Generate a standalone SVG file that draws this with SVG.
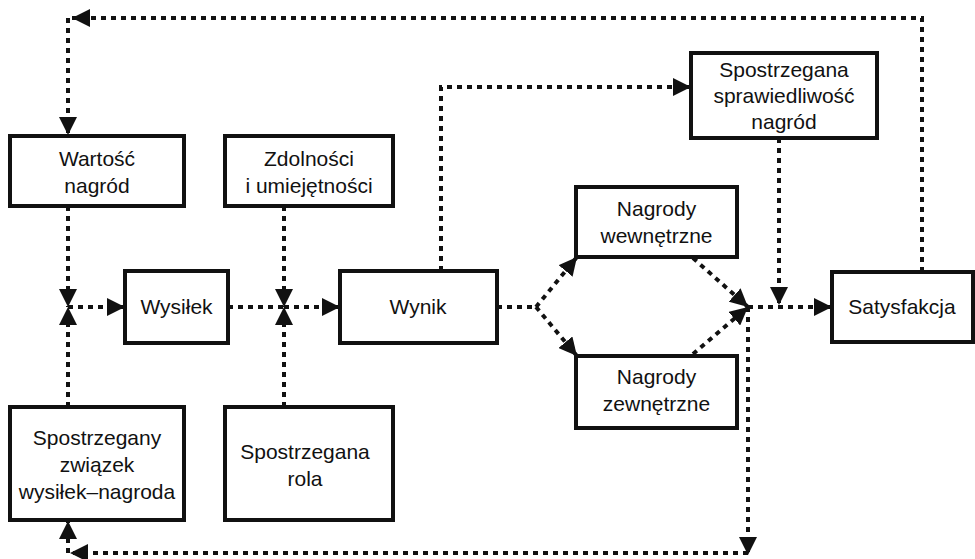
<svg xmlns="http://www.w3.org/2000/svg" width="975" height="559" viewBox="0 0 975 559">
<style>
.box{fill:#fff;stroke:#111;stroke-width:4}
.t{font-family:"Liberation Sans",Arial,sans-serif;font-size:21px;fill:#111;text-anchor:middle}
.c{fill:none;stroke:#111;stroke-width:4;stroke-dasharray:5 5}
.a{marker-end:url(#ah)}
</style>
<defs>
<marker id="ah" markerUnits="userSpaceOnUse" markerWidth="18" markerHeight="18" refX="18" refY="9" orient="auto">
<path d="M0,0 L18,9 L0,18 z" fill="#111"/>
</marker>
</defs>
<rect width="975" height="559" fill="#fff"/>
<g id="connectors">
<path class="c a" d="M922,272 V18 H72"/>
<path class="c a" d="M68,18 V135"/>
<path class="c a" d="M68,206 V307"/>
<path class="c a" d="M68,407 V307"/>
<path class="c a" d="M68,307 H125"/>
<path class="c" d="M228,307 H284"/>
<path class="c a" d="M284,206 V307"/>
<path class="c a" d="M284,407 V307"/>
<path class="c a" d="M284,307 H340"/>
<path class="c a" d="M441,271 V87 H691"/>
<path class="c" d="M497,307 H536"/>
<path class="c a" d="M536,307 L577,257"/>
<path class="c a" d="M536,307 L577,356"/>
<path class="c a" d="M693,258 L748,307"/>
<path class="c a" d="M693,354 L748,307"/>
<path class="c a" d="M779,138 V305"/>
<path class="c a" d="M748,307 H832"/>
<path class="c a" d="M748,307 V555"/>
<path class="c a" d="M748,553 H70"/>
<path class="c a" d="M68,553 V521"/>
</g>
<g id="wartosc">
<rect class="box" x="10" y="136" width="174" height="70"/>
<text class="t" x="97" y="166">Wartość</text>
<text class="t" x="97" y="193">nagród</text>
</g>
<g id="zdolnosci">
<rect class="box" x="225" y="136" width="168" height="70"/>
<text class="t" x="309" y="166">Zdolności</text>
<text class="t" x="309" y="193">i umiejętności</text>
</g>
<g id="wysilek">
<rect class="box" x="125" y="271" width="103" height="72"/>
<text class="t" x="176.5" y="314">Wysiłek</text>
</g>
<g id="wynik">
<rect class="box" x="340" y="271" width="157" height="72"/>
<text class="t" x="418" y="314">Wynik</text>
</g>
<g id="zwiazek">
<rect class="box" x="10" y="407" width="174" height="113"/>
<text class="t" x="97" y="445">Spostrzegany</text>
<text class="t" x="97" y="472">związek</text>
<text class="t" x="97" y="499">wysiłek–nagroda</text>
</g>
<g id="rola">
<rect class="box" x="225" y="407" width="168" height="113"/>
<text class="t" x="305" y="459">Spostrzegana</text>
<text class="t" x="305" y="486">rola</text>
</g>
<g id="wewnetrzne">
<rect class="box" x="576" y="187" width="161" height="70"/>
<text class="t" x="656.5" y="216">Nagrody</text>
<text class="t" x="656.5" y="243">wewnętrzne</text>
</g>
<g id="zewnetrzne">
<rect class="box" x="576" y="356" width="161" height="72"/>
<text class="t" x="656.5" y="384">Nagrody</text>
<text class="t" x="656.5" y="411">zewnętrzne</text>
</g>
<g id="sprawiedliwosc">
<rect class="box" x="691" y="53" width="186" height="85"/>
<text class="t" x="784" y="77">Spostrzegana</text>
<text class="t" x="784" y="103">sprawiedliwość</text>
<text class="t" x="784" y="129">nagród</text>
</g>
<g id="satysfakcja">
<rect class="box" x="832" y="272" width="141" height="70"/>
<text class="t" x="902" y="314">Satysfakcja</text>
</g>
</svg>
